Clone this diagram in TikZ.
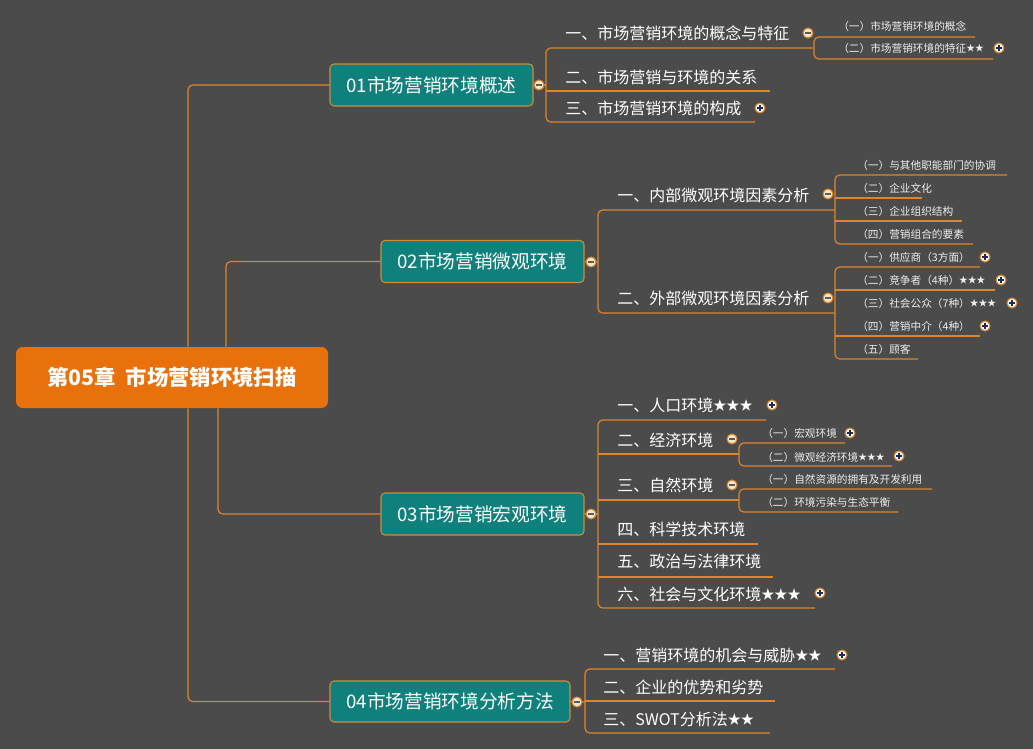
\documentclass[tikz,border=0pt]{standalone}
\usepackage{graphicx}
\usepackage{fontspec}
\setmainfont{Noto Sans CJK SC}
\newcommand{\stx}{\raisebox{0.02em}{\scalebox{0.82}{★}}}
\definecolor{bgc}{RGB}{75,75,75}
\definecolor{linec}{RGB}{222,132,44}
\definecolor{tealc}{RGB}{16,128,124}
\definecolor{rootc}{RGB}{232,113,12}
\definecolor{boxborder}{RGB}{205,140,60}
\definecolor{minusfill}{RGB}{245,232,205}
\definecolor{signminus}{RGB}{90,90,90}
\definecolor{signplus}{RGB}{28,42,92}
\definecolor{subtext}{RGB}{238,238,238}
\tikzset{
  conn/.style={draw=linec, line width=0.9pt},
  rc/.style={rounded corners=3.5pt},
  rootbox/.style={fill=rootc, rounded corners=5pt, minimum width=234pt, minimum height=45.75pt, inner sep=0pt, text=white, font=\bfseries\fontsize{16}{18}\selectfont},
  topicbox/.style={draw=boxborder, line width=0.8pt, fill=tealc, rounded corners=3pt, minimum width=152.25pt, minimum height=31.5pt, inner sep=0pt, text=white, font=\fontsize{14}{16}\selectfont},
  lvtwo/.style={anchor=west, inner sep=0pt, text=white, font=\fontsize{12}{14}\selectfont},
  lvthree/.style={anchor=west, inner sep=0pt, text=subtext, font=\fontsize{8}{10}\selectfont},
  colminus/.pic={\draw[draw=linec, line width=0.8pt, fill=minusfill] (0,0) circle[radius=5]; \draw[line width=0.8pt, draw=signminus] (-2.6,0) -- (2.6,0);},
  colplus/.pic={\draw[draw=linec, line width=0.8pt, fill=white] (0,0) circle[radius=5]; \draw[line width=0.8pt, draw=signplus] (-2.6,0) -- (2.6,0) (0,-2.6) -- (0,2.6);}
}
\begin{document}
\begin{tikzpicture}[x=0.75pt,y=-0.75pt]
\fill[bgc] (0,0) rectangle (1033,749);
\useasboundingbox (0,0) rectangle (1033,749);

% coordinates for root connector columns
\coordinate (xa) at (188,0);
\coordinate (xb) at (226,0);
\coordinate (xc) at (218,0);

% root and topics
\node[rootbox] (root) at (172,377.5) {第05章\hspace{0.45em}市场营销环境扫描};
\node[topicbox] (t1) at (431.5,85) {01市场营销环境概述};
\node[topicbox] (t2) at (482.5,261.5) {02市场营销微观环境};
\node[topicbox] (t3) at (482.5,514) {03市场营销宏观环境};
\node[topicbox, minimum width=180pt, minimum height=30.75pt] (t4) at (450,701.5) {04市场营销环境分析方法};

\draw[conn, rc] (root.north -| xa) |- (t1.west);
\draw[conn, rc] (root.north -| xb) |- (t2.west);
\draw[conn, rc] (root.south -| xc) |- (t3.west);
\draw[conn, rc] (root.south -| xa) |- (t4.west);

% ---------- group 01 ----------
\coordinate (v1) at (546,85);
\draw[conn] (t1.east) -- (v1);
\draw[conn, rc] (813,48) -- (546,48) -- (546,122) -- (755,122);
\draw[conn] (546,91) -- (770,91);
\draw[conn, rc] (975,37) -- (814,37) -- (814,59) -- (993,59);
\node[lvtwo] (a1) at (565,33) {一、市场营销环境的概念与特征};
\node[lvtwo] (a2) at (565,77) {二、市场营销与环境的关系};
\node[lvtwo] (a3) at (565,108) {三、市场营销环境的构成};
\node[lvthree] (a11) at (838,26) {（一）市场营销环境的概念};
\node[lvthree] (a12) at (838,48) {（二）市场营销环境的特征\stx\stx};
\pic at (539,85) {colminus};
\pic at (808,33) {colminus};
\pic at (999,48) {colplus};
\pic at (760,108) {colplus};

% ---------- group 02 ----------
\coordinate (v2) at (598,262);
\draw[conn] (t2.east) -- (v2);
\draw[conn, rc] (835,210) -- (598,210) -- (598,313) -- (835,313);
\draw[conn, rc] (1007,175) -- (835,175) -- (835,244) -- (973,244);
\draw[conn] (835,198) -- (922,198);
\draw[conn] (835,221) -- (962,221);
\draw[conn, rc] (980,267) -- (835,267) -- (835,359) -- (918,359);
\draw[conn] (835,290) -- (995,290);
\draw[conn] (835,336) -- (980,336);
\node[lvtwo] (b1) at (617,195) {一、内部微观环境因素分析};
\node[lvtwo] (b2) at (617,298) {二、外部微观环境因素分析};
\node[lvthree] (b11) at (857,165) {（一）与其他职能部门的协调};
\node[lvthree] (b12) at (857,188) {（二）企业文化};
\node[lvthree] (b13) at (857,211) {（三）企业组织结构};
\node[lvthree] (b14) at (857,234) {（四）营销组合的要素};
\node[lvthree] (b21) at (857,257) {（一）供应商（3方面）};
\node[lvthree] (b22) at (857,280) {（二）竞争者（4种）\stx\stx\stx};
\node[lvthree] (b23) at (857,303) {（三）社会公众（7种）\stx\stx\stx};
\node[lvthree] (b24) at (857,326) {（四）营销中介（4种）};
\node[lvthree] (b25) at (857,349) {（五）顾客};
\pic at (591,262) {colminus};
\pic at (828,194) {colminus};
\pic at (828,298) {colminus};
\pic at (985,257) {colplus};
\pic at (1001,280) {colplus};
\pic at (1012,303) {colplus};
\pic at (985,326) {colplus};

% ---------- group 03 ----------
\coordinate (v3) at (598,514);
\draw[conn] (t3.east) -- (v3);
\draw[conn, rc] (766,420) -- (598,420) -- (598,608) -- (815,608);
\draw[conn] (598,454) -- (739,454);
\draw[conn] (598,500) -- (739,500);
\draw[conn] (598,544) -- (758,544);
\draw[conn] (598,577) -- (773,577);
\draw[conn, rc] (845,443) -- (739,443) -- (739,466) -- (892,466);
\draw[conn, rc] (932,489) -- (739,489) -- (739,512) -- (898,512);
\node[lvtwo] (c1) at (617,405) {一、人口环境\stx\stx\stx};
\node[lvtwo] (c2) at (617,440) {二、经济环境};
\node[lvtwo] (c3) at (617,485) {三、自然环境};
\node[lvtwo] (c4) at (617,529) {四、科学技术环境};
\node[lvtwo] (c5) at (617,561) {五、政治与法律环境};
\node[lvtwo] (c6) at (617,594) {六、社会与文化环境\stx\stx\stx};
\node[lvthree] (c21) at (762,433) {（一）宏观环境};
\node[lvthree] (c22) at (762,457) {（二）微观经济环境\stx\stx\stx};
\node[lvthree] (c31) at (762,479) {（一）自然资源的拥有及开发利用};
\node[lvthree] (c32) at (762,502) {（二）环境污染与生态平衡};
\pic at (591,514) {colminus};
\pic at (732,439) {colminus};
\pic at (732,485) {colminus};
\pic at (772,405) {colplus};
\pic at (850,433) {colplus};
\pic at (899,456) {colplus};
\pic at (820,593) {colplus};

% ---------- group 04 ----------
\coordinate (v4) at (585,702);
\draw[conn] (t4.east) -- (v4);
\draw[conn, rc] (835,669) -- (585,669) -- (585,733) -- (770,733);
\draw[conn] (585,701) -- (775,701);
\node[lvtwo] (d1) at (603,655) {一、营销环境的机会与威胁\stx\stx};
\node[lvtwo] (d2) at (603,687) {二、企业的优势和劣势};
\node[lvtwo] (d3) at (603,719) {三、SWOT分析法\stx\stx};
\pic at (577,702) {colminus};
\pic at (842,655) {colplus};
\end{tikzpicture}
\end{document}
